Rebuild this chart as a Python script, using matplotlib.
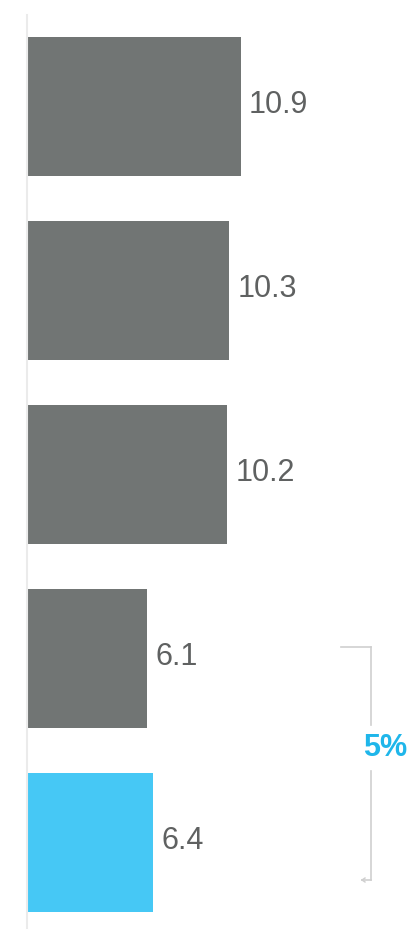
import matplotlib
matplotlib.use("Agg")
import matplotlib.pyplot as plt
from matplotlib.lines import Line2D

categories = ["A", "B", "C", "D", "E"]
values = [10.9, 10.3, 10.2, 6.1, 6.4]
labels = ["10.9", "10.3", "10.2", "6.1", "6.4"]
colors = ["#717574", "#717574", "#717574", "#717574", "#46C8F5"]
change_label = "5%"

plt.rcParams['font.family'] = ['Liberation Sans', 'DejaVu Sans']

W, H = 410, 931
fig = plt.figure(figsize=(W / 100, H / 100), dpi=100)
left_px, top_px, bottom_px = 27, 15, 928
ax = fig.add_axes([left_px / W, 1 - bottom_px / H, 1 - left_px / W, (bottom_px - top_px) / H])

pos = list(range(len(categories)))
ax.barh(pos, values, height=0.755, color=colors, left=0.05)
ax.set_xlim(0, (W - left_px) / 19.5)
ax.set_ylim(4.465, -0.497)

for p, v, lab in zip(pos, values, labels):
    ax.annotate(lab, (v + 0.05, p), xytext=(6, 1), textcoords="offset points",
                ha="left", va="center", fontsize=22, color="#5f6161")

for s in ["top", "right", "bottom"]:
    ax.spines[s].set_visible(False)
ax.spines["left"].set_color("#ebebeb")
ax.spines["left"].set_linewidth(1.5)
ax.set_xticks([])
ax.set_yticks([])

# bracket between last two bars
def fx(px):
    return px / W
def fy(py):
    return 1 - py / H

bc = "#cfcfcf"
x_v, x_l = 371, 341
y_top, y_bot = 647, 880
y_gap1, y_gap2 = 725, 771
fig.add_artist(Line2D([fx(x_l), fx(x_v)], [fy(y_top), fy(y_top)], color=bc, lw=1.2))
fig.add_artist(Line2D([fx(x_v), fx(x_v)], [fy(y_top), fy(y_gap1)], color=bc, lw=1.2))
fig.add_artist(Line2D([fx(x_v), fx(x_v)], [fy(y_gap2), fy(y_bot)], color=bc, lw=1.2))
fig.add_artist(Line2D([fx(x_v), fx(x_v - 9)], [fy(y_bot), fy(y_bot)], color=bc, lw=1.2))
fig.add_artist(Line2D([fx(x_v - 9), fx(x_v - 6)], [fy(y_bot), fy(y_bot - 2)], color=bc, lw=1.0))
fig.add_artist(Line2D([fx(x_v - 9), fx(x_v - 6)], [fy(y_bot), fy(y_bot + 2)], color=bc, lw=1.0))
fig.text(fx(385), fy(748), change_label, ha="center", va="center", fontsize=22,
         fontweight="bold", color="#1fb6ea")

fig.savefig("out.png", dpi=100)
